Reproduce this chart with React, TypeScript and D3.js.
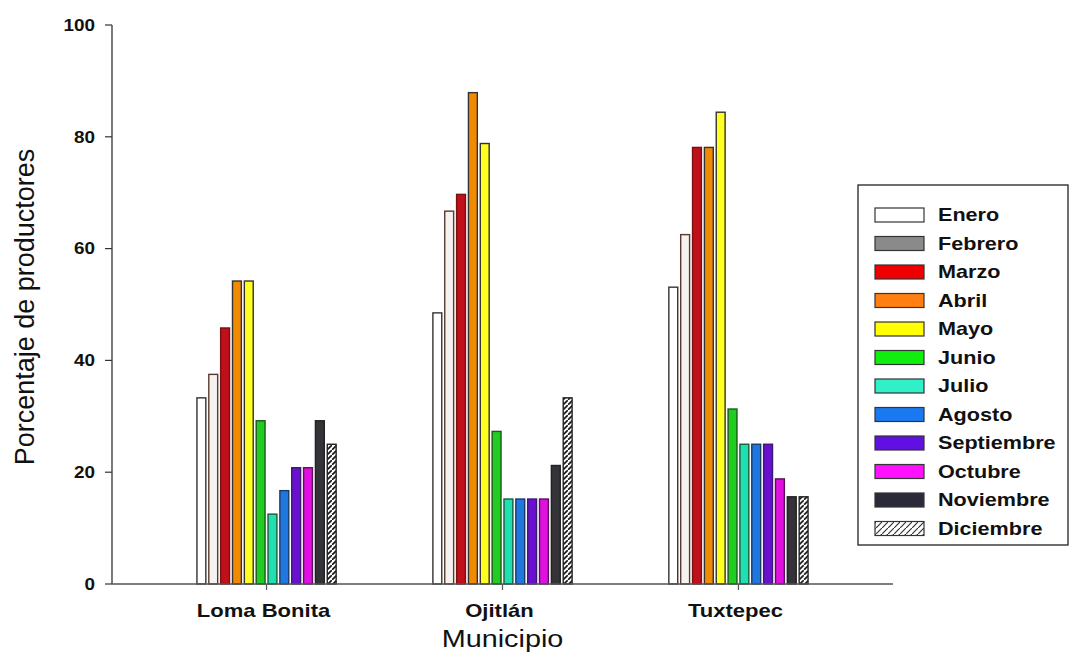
import React from "react";
import * as d3 from "d3";

const municipios = ["Loma Bonita", "Ojitlán", "Tuxtepec"];
const meses = ["Enero", "Febrero", "Marzo", "Abril", "Mayo", "Junio", "Julio", "Agosto", "Septiembre", "Octubre", "Noviembre", "Diciembre"];
const lomaBonita = [33.3, 37.5, 45.8, 54.2, 54.2, 29.2, 12.5, 16.7, 20.8, 20.8, 29.2, 25.0];
const ojitlan = [48.5, 66.7, 69.7, 87.9, 78.8, 27.3, 15.2, 15.2, 15.2, 15.2, 21.2, 33.3];
const tuxtepec = [53.1, 62.5, 78.1, 78.1, 84.4, 31.3, 25.0, 25.0, 25.0, 18.8, 15.6, 15.6];
const yTicks = [0, 20, 40, 60, 80, 100];

const seriesByMunicipio = [lomaBonita, ojitlan, tuxtepec];

const barFill = ["#ffffff", "#f6f2f0", "#c0101c", "#f08a00", "#ffff20", "#22cc22", "#20e0b0", "#1e78e0", "#6a10d0", "#e010e0", "#333338", "url(#hatch)"];
const barStroke = ["#333333", "#5a3a30", "#7a1010", "#333333", "#333333", "#1a5a1a", "#1a5a40", "#1a3a6a", "#3a1a6a", "#5a105a", "#222222", "#222222"];
const legendFill = ["#ffffff", "#8a8a8a", "#ee0000", "#ff8010", "#ffff00", "#10ee10", "#30f0c8", "#1a78f0", "#6010e0", "#ff10ff", "#2a2a38", "url(#hatchL)"];

const W = 1075;
const H = 654;
const axX0 = 112;
const axX1 = 893;
const axY0 = 584;
const axY1 = 25;

function SText({ x, y, sx = 1, anchor = "start", size, weight = "bold", children, dy = "0" }: any) {
  return (
    <g transform={`translate(${x},${y}) scale(${sx},1)`}>
      <text textAnchor={anchor} fontSize={size} fontWeight={weight} dy={dy} fill="#111" fontFamily="'Liberation Sans', Arial, sans-serif">
        {children}
      </text>
    </g>
  );
}

export default function App() {
  const x0 = d3.scaleBand<string>().domain(municipios).range([axX0, axX1]).paddingInner(0.41).paddingOuter(0.36);
  const x1 = d3.scaleBand<string>().domain(meses).range([0, x0.bandwidth()]).paddingInner(0.25);
  const y = d3.scaleLinear().domain([0, 100]).range([axY0, axY1]);

  const legX = 858, legY = 185, legW = 210, legH = 360;
  const rowY = d3.scalePoint<string>().domain(meses).range([215, 215 + 28.5 * 11]);

  return (
    <svg width={W} height={H} style={{ position: "absolute", left: 0, top: 0, background: "#fff" }}>
      <defs>
        <pattern id="hatch" patternUnits="userSpaceOnUse" width="5" height="5">
          <rect width="5" height="5" fill="#fff" />
          <path d="M-1,6 L6,-1" stroke="#111" strokeWidth="1.6" />
        </pattern>
        <pattern id="hatchL" patternUnits="userSpaceOnUse" width="6" height="6">
          <rect width="6" height="6" fill="#fff" />
          <path d="M-1,7 L7,-1" stroke="#333" strokeWidth="1.2" />
        </pattern>
      </defs>

      {/* bars */}
      {municipios.map((m, mi) => (
        <g key={m} transform={`translate(${x0(m)},0)`}>
          {meses.map((mes, i) => {
            const v = seriesByMunicipio[mi][i];
            return (
              <rect
                key={mes}
                x={x1(mes)}
                y={y(v)}
                width={x1.bandwidth()}
                height={y(0) - y(v)}
                fill={barFill[i]}
                stroke={barStroke[i]}
                strokeWidth={1.4}
              />
            );
          })}
        </g>
      ))}

      {/* axes */}
      <line x1={axX0} x2={axX0} y1={axY1} y2={axY0} stroke="#333" strokeWidth={1.3} />
      <line x1={axX0} x2={axX1} y1={axY0} y2={axY0} stroke="#555" strokeWidth={1.3} />
      {yTicks.map((t) => (
        <g key={t}>
          <line x1={axX0 - 7} x2={axX0} y1={y(t)} y2={y(t)} stroke="#333" strokeWidth={1.2} />
          <SText x={95} y={y(t)} sx={1.18} anchor="end" size={16} dy="0.36em">{t}</SText>
        </g>
      ))}
      {municipios.map((m) => {
        const cx = (x0(m) as number) + x0.bandwidth() / 2;
        return (
          <g key={m}>
            <line x1={cx} x2={cx} y1={axY0} y2={axY0 + 6} stroke="#555" strokeWidth={1.2} />
            <SText x={cx - 3} y={617} sx={1.16} anchor="middle" size={19}>{m}</SText>
          </g>
        );
      })}
      <SText x={(axX0 + axX1) / 2} y={647} sx={1.2} anchor="middle" size={24} weight="normal">Municipio</SText>
      <g transform={`translate(34,307) rotate(-90)`}>
        <text textAnchor="middle" fontSize={27} fill="#111" fontFamily="'Liberation Sans', Arial, sans-serif">Porcentaje de productores</text>
      </g>

      {/* legend */}
      <rect x={legX} y={legY} width={legW} height={legH} fill="#fff" stroke="#222" strokeWidth={1.3} />
      {meses.map((mes, i) => {
        const cy = rowY(mes) as number;
        return (
          <g key={mes}>
            <rect x={875} y={cy - 7} width={49} height={14} fill={legendFill[i]} stroke="#333" strokeWidth={1.2} />
            <SText x={938} y={cy} sx={1.2} size={18} dy="0.36em">{mes}</SText>
          </g>
        );
      })}
    </svg>
  );
}
